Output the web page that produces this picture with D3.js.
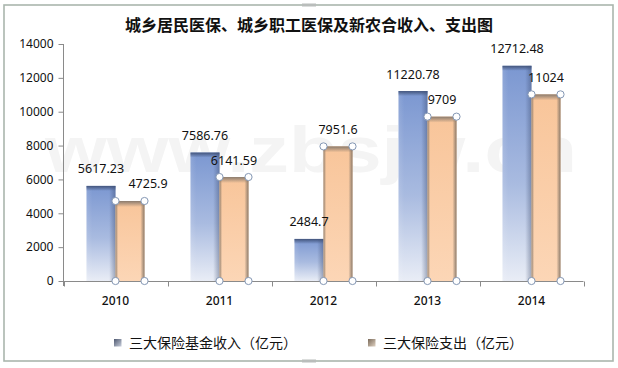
<!DOCTYPE html>
<html><head><meta charset="utf-8">
<script src="https://cdn.jsdelivr.net/npm/d3@7"></script>
<style>html,body{margin:0;padding:0;background:#fff;}svg{display:block;}</style>
</head><body>
<svg id="chart" width="618" height="368"></svg>
<script>
const title = "城乡居民医保、城乡职工医保及新农合收入、支出图";
const years = ["2010", "2011", "2012", "2013", "2014"];
const income = [5617.23, 7586.76, 2484.7, 11220.78, 12712.48];
const expense = [4725.9, 6141.59, 7951.6, 9709, 11024];
const incomeLabels = ["5617.23", "7586.76", "2484.7", "11220.78", "12712.48"];
const expenseLabels = ["4725.9", "6141.59", "7951.6", "9709", "11024"];
const seriesNames = ["三大保险基金收入（亿元）", "三大保险支出（亿元）"];
const yTicks = [0, 2000, 4000, 6000, 8000, 10000, 12000, 14000];
const watermark = "www.zbsjw.cn";

const svg = d3.select("#chart");
const defs = svg.append("defs");

function vgrad(id, stops, x2, y2) {
  const g = defs.append("linearGradient").attr("id", id)
    .attr("x1", 0).attr("y1", 0).attr("x2", x2).attr("y2", y2);
  stops.forEach(s => g.append("stop").attr("offset", s[0]).attr("stop-color", s[1]).attr("stop-opacity", s[2] === undefined ? 1 : s[2]));
}
vgrad("incV", [[0, "#7b97d1"], [0.55, "#a9bbe0"], [1, "#e9edf6"]], 0, 1);
vgrad("incH", [[0, "#ffffff", 0.12], [0.2, "#ffffff", 0], [0.78, "#2c3b5e", 0], [1, "#2c3b5e", 0.38]], 1, 0);
vgrad("incTop", [[0, "#43557c", 1], [1, "#43557c", 0]], 0, 1);
vgrad("expV", [[0, "#f8c59a"], [1, "#fcd6b6"]], 0, 1);
vgrad("expH", [[0, "#7f7163", 0.85], [0.09, "#7f7163", 0], [0.86, "#7f7163", 0], [1, "#7f7163", 0.9]], 1, 0);
vgrad("expTop", [[0, "#8a7b6e", 1], [1, "#8a7b6e", 0]], 0, 1);
vgrad("legInc", [[0, "#4e5870"], [1, "#c9cfdc"]], 1, 1);
vgrad("legExp", [[0, "#7a6a5a"], [1, "#e0d2c2"]], 1, 1);

// frame
svg.append("rect").attr("x", 4).attr("y", 5).attr("width", 609).attr("height", 356)
  .attr("fill", "#fff").attr("stroke", "#aab6ad").attr("stroke-width", 1.6);
svg.append("rect").attr("x", 302).attr("y", 3.5).attr("width", 14).attr("height", 3).attr("fill", "#b9bdbb");
svg.append("rect").attr("x", 302).attr("y", 359.5).attr("width", 14).attr("height", 3).attr("fill", "#b9bdbb");

// faint watermark
svg.append("text").attr("x", 45).attr("y", 172).text(watermark)
  .attr("font-family", "Liberation Sans, Arial, sans-serif").attr("font-weight", "bold")
  .attr("font-size", 64).attr("textLength", 532).attr("lengthAdjust", "spacingAndGlyphs")
  .attr("fill", "#f4f4f4");

// title
svg.append("text").attr("x", 309).attr("y", 31).attr("text-anchor", "middle")
  .attr("font-family", "Noto Sans CJK SC, sans-serif").attr("font-weight", "bold")
  .attr("font-size", 16).attr("fill", "#111").text(title);

// scales
const x0 = d3.scaleBand().domain(years).range([63.5, 583.5]).paddingInner(0).paddingOuter(0);
const pairW = 58;
const x1 = d3.scaleBand().domain([0, 1]).range([0, pairW]);
const y = d3.scaleLinear().domain([0, 14000]).range([281, 44]);
const pairStart = d => x0(d) + (x0.bandwidth() - pairW) / 2;

// axes
const yAxis = d3.axisLeft(y).tickValues(yTicks).tickFormat(d3.format("d")).tickSize(5).tickSizeOuter(0).tickPadding(5);
const gy = svg.append("g").attr("transform", "translate(63.5,0)").call(yAxis);
gy.select(".domain").attr("stroke", "#8a8a8a").attr("d", "M0,44V286");
gy.selectAll(".tick line").attr("stroke", "#8a8a8a");
gy.selectAll(".tick text").attr("font-family", "Noto Sans, sans-serif").attr("font-size", 12).attr("fill", "#111");

const gx = svg.append("g").attr("transform", "translate(0,281.5)");
gx.append("line").attr("x1", 63.5).attr("x2", 583.5).attr("y1", 0).attr("y2", 0).attr("stroke", "#8a8a8a");
const bounds = years.map(d => x0(d)).concat([x0(years[years.length - 1]) + x0.bandwidth()]);
gx.selectAll("line.tk").data(bounds).join("line").attr("class", "tk")
  .attr("x1", d => Math.round(d) + 0.5).attr("x2", d => Math.round(d) + 0.5).attr("y1", 0).attr("y2", 5).attr("stroke", "#8a8a8a");
gx.selectAll("text").data(years).join("text")
  .attr("x", d => x0(d) + x0.bandwidth() / 2).attr("y", 23.5).attr("text-anchor", "middle")
  .attr("font-family", "Noto Sans, sans-serif").attr("font-size", 12).attr("font-weight", 500).attr("fill", "#111").text(d => d);

// bars
const bars = svg.append("g");
years.forEach((yr, i) => {
  const xi = pairStart(yr) + x1(0), bw = x1.bandwidth();
  const ti = y(income[i]), hi = y(0) - ti;
  bars.append("rect").attr("x", xi).attr("y", ti).attr("width", bw).attr("height", hi).attr("fill", "url(#incV)");
  bars.append("rect").attr("x", xi).attr("y", ti).attr("width", bw).attr("height", hi).attr("fill", "url(#incH)");
  bars.append("rect").attr("x", xi).attr("y", ti).attr("width", bw).attr("height", Math.min(5, hi)).attr("fill", "url(#incTop)");

  const xe = pairStart(yr) + x1(1);
  const te = y(expense[i]), he = y(0) - te;
  bars.append("rect").attr("x", xe).attr("y", te).attr("width", bw).attr("height", he).attr("fill", "url(#expV)");
  bars.append("rect").attr("x", xe).attr("y", te).attr("width", bw).attr("height", he).attr("fill", "url(#expH)");
  bars.append("rect").attr("x", xe).attr("y", te).attr("width", bw).attr("height", Math.min(6, he)).attr("fill", "url(#expTop)");
});

// selection handles on expense bars
const handles = [];
years.forEach((yr, i) => {
  const xe = pairStart(yr) + x1(1), bw = x1.bandwidth();
  [y(expense[i]), y(0)].forEach(yy => { handles.push([xe, yy]); handles.push([xe + bw, yy]); });
});
svg.append("g").selectAll("circle").data(handles).join("circle")
  .attr("cx", d => d[0]).attr("cy", d => d[1]).attr("r", 3.6)
  .attr("fill", "#fff").attr("stroke", "#8497b4").attr("stroke-width", 1);

// data labels
const lab = svg.append("g").attr("font-family", "Noto Sans, sans-serif").attr("font-size", 12.5).attr("fill", "#111").attr("text-anchor", "middle");
years.forEach((yr, i) => {
  const bw = x1.bandwidth();
  lab.append("text").attr("x", pairStart(yr) + x1(0) + bw / 2).attr("y", y(income[i]) - 12.5).text(incomeLabels[i]);
  const dx = (i === 0) ? 18 : 0;
  lab.append("text").attr("x", pairStart(yr) + x1(1) + bw / 2 + dx).attr("y", y(expense[i]) - 12.5).text(expenseLabels[i]);
});

// legend
const leg = svg.append("g");
const legX = [114, 368];
const legFill = ["url(#legInc)", "url(#legExp)"];
seriesNames.forEach((n, i) => {
  leg.append("rect").attr("x", legX[i]).attr("y", 339).attr("width", 7.5).attr("height", 7.5).attr("fill", legFill[i]);
  leg.append("text").attr("x", legX[i] + 15).attr("y", 348).attr("font-family", "Noto Sans CJK SC, sans-serif")
    .attr("font-size", 14).attr("fill", "#111").text(n);
});
</script>
</body></html>
